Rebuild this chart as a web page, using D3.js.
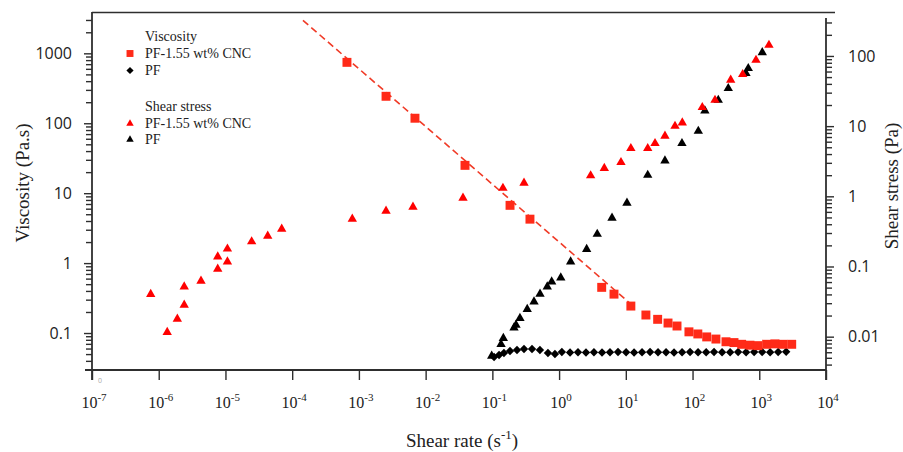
<!DOCTYPE html>
<html>
<head>
<meta charset="utf-8">
<script src="https://cdn.jsdelivr.net/npm/d3@7"></script>
<style>
  body { margin: 0; background: #fff; }
  svg { display: block; }
</style>
</head>
<body>
<div id="chart"></div>
<script>
// ---- data ----
// shear rate in 1/s, viscosity in Pa.s, shear stress in Pa
const xTickExps = [-7, -6, -5, -4, -3, -2, -1, 0, 1, 2, 3, 4];
const yLeftTicks = [0.1, 1, 10, 100, 1000];
const yLeftLabels = ["0.1", "1", "10", "100", "1000"];
const yRightTicks = [0.01, 0.1, 1, 10, 100];
const yRightLabels = ["0.01", "0.1", "1", "10", "100"];

const cncViscRate = [6.62e-4, 2.55e-3, 6.92e-3, 0.0389, 0.184, 0.366, 4.35, 6.65, 11.9, 20.0,
  30.0, 42.9, 58.5, 88.3, 120, 163, 224, 317, 418, 545, 726, 957, 1291, 1718, 2265, 3062];
const cncVisc = [743, 243, 118, 25, 6.7, 4.25, 0.45, 0.36, 0.243, 0.181,
  0.157, 0.139, 0.126, 0.104, 0.097, 0.088, 0.082, 0.075, 0.073, 0.069, 0.067, 0.066, 0.069, 0.070, 0.069, 0.069];

const pfViscRate = [0.106, 0.126, 0.149, 0.184, 0.234, 0.298, 0.393, 0.516, 0.681, 0.867,
  1.10, 1.46, 1.92, 2.53, 3.33, 4.40, 5.79, 7.64, 10.1, 13.3, 17.5, 23.1, 30.4, 40.1, 52.8,
  69.7, 91.8, 121, 160, 210, 277, 366, 482, 635, 838, 1104, 1455, 1919, 2529];
const pfVisc = [0.0454, 0.0485, 0.0518, 0.0553, 0.0572, 0.0591, 0.0591, 0.0572, 0.0518, 0.0501,
  0.0535, 0.0526, 0.0530, 0.0526, 0.0530, 0.0526, 0.0530, 0.0535, 0.0530, 0.0526, 0.0530, 0.0535,
  0.0530, 0.0530, 0.0526, 0.0530, 0.0535, 0.0530, 0.0530, 0.0535, 0.0530, 0.0530, 0.0535, 0.0530,
  0.0535, 0.0535, 0.0530, 0.0535, 0.0540];

const cncStressRate = [7.59e-7, 1.34e-6, 1.90e-6, 2.41e-6, 2.41e-6, 4.30e-6, 7.66e-6, 1.07e-5, 7.66e-6,
  1.07e-5, 2.47e-5, 4.30e-5, 6.97e-5, 7.96e-4, 2.55e-3, 6.46e-3, 0.0363, 0.144, 0.298, 2.97, 4.76,
  8.46, 11.9, 21.3, 27.4, 38.6, 54.6, 70.2, 140, 217, 373, 564, 893, 1397];
const cncStress = [0.0402, 0.01155, 0.01787, 0.0283, 0.0515, 0.0621, 0.0921, 0.117, 0.138,
  0.178, 0.226, 0.272, 0.342, 0.475, 0.618, 0.704, 0.946, 1.31, 1.55, 1.97, 2.51,
  3.05, 4.83, 4.83, 5.69, 7.23, 10.0, 11.2, 18.5, 23.5, 45.4, 54.7, 87.4, 143];

const pfStressRate = [0.0977, 0.135, 0.146, 0.211, 0.226, 0.259, 0.333, 0.421, 0.518, 0.665, 0.774,
  1.06, 1.49, 2.59, 3.73, 6.21, 10.4, 21.3, 38.6, 69.4, 122, 153, 243, 343, 632, 684, 1109];
const pfStress = [0.00531, 0.00779, 0.00949, 0.0134, 0.0147, 0.0183, 0.0246, 0.0315, 0.0406, 0.0515, 0.0607,
  0.0692, 0.117, 0.176, 0.290, 0.491, 0.803, 2.01, 3.21, 5.69, 8.51, 16.6, 23.5, 34.5, 56.5, 66.6, 112];

// dashed power-law fit for PF-1.55 wt% CNC viscosity
const fitRate = [1.45e-4, 12.4];
const fitVisc = [2960, 0.251];

// ---- chart ----
const W = 903, H = 452;
const plotLeft = 92, plotRight = 826, plotBottom = 370, plotTop = 12;
const axisColor = "#2e2e2e";
const serif = "'Liberation Serif', 'Times New Roman', serif";
const sans = "'Open Sans', 'Noto Sans', sans-serif";

const svg = d3.select("#chart").append("svg")
  .attr("width", W).attr("height", H);

const x = d3.scaleLog().domain([1e-7, 1e4]).range([plotLeft, plotRight]);
const yL = d3.scaleLog().domain([0.0296, 3900]).range([plotBottom, plotTop]);
const yR = d3.scaleLog().domain([0.00335, 347.5]).range([plotBottom, 18]);

function styleAxis(g) {
  g.select(".domain").remove();
  g.selectAll(".tick line").attr("stroke", axisColor).attr("stroke-width", 1.4);
}

// left axis: minor + major ticks
const leftMinor = yL.ticks().filter(v => yLeftTicks.indexOf(v) === -1);
svg.append("g").attr("transform", `translate(${plotLeft},0)`)
  .call(d3.axisLeft(yL).tickValues(leftMinor).tickSize(6).tickFormat(""))
  .call(styleAxis);
svg.append("g").attr("transform", `translate(${plotLeft},0)`)
  .call(d3.axisLeft(yL).tickValues(yLeftTicks).tickSize(8).tickFormat((d, i) => yLeftLabels[i]).tickPadding(12))
  .call(styleAxis)
  .call(g => g.selectAll("text").attr("font-family", sans).attr("font-size", 16).attr("fill", "#222"));

// right axis
const rightMinor = yR.ticks().filter(v => yRightTicks.indexOf(v) === -1);
svg.append("g").attr("transform", `translate(${plotRight},0)`)
  .call(d3.axisRight(yR).tickValues(rightMinor).tickSize(6).tickFormat(""))
  .call(styleAxis);
svg.append("g").attr("transform", `translate(${plotRight},0)`)
  .call(d3.axisRight(yR).tickValues(yRightTicks).tickSize(8).tickFormat((d, i) => yRightLabels[i]).tickPadding(14))
  .call(styleAxis)
  .call(g => g.selectAll("text").attr("font-family", sans).attr("font-size", 16).attr("fill", "#222"));

// bottom axis
svg.append("g").attr("transform", `translate(0,${plotBottom})`)
  .call(d3.axisBottom(x).tickValues(xTickExps.map(e => Math.pow(10, e))).tickSize(10).tickFormat(""))
  .call(styleAxis);

xTickExps.forEach(e => {
  const t = svg.append("text")
    .attr("x", x(Math.pow(10, e)) + 2).attr("y", 408)
    .attr("text-anchor", "middle")
    .attr("font-family", serif).attr("font-size", 16).attr("fill", "#222");
  t.append("tspan").text("10");
  t.append("tspan").attr("dy", -7).attr("font-size", 11).text(String(e));
});

// frame lines
svg.append("line").attr("x1", plotLeft).attr("x2", plotLeft).attr("y1", plotTop).attr("y2", plotBottom + 10)
  .attr("stroke", axisColor).attr("stroke-width", 1.8);
svg.append("line").attr("x1", plotRight).attr("x2", plotRight).attr("y1", 18).attr("y2", plotBottom + 10)
  .attr("stroke", axisColor).attr("stroke-width", 1.8);
svg.append("line").attr("x1", 85).attr("x2", plotRight).attr("y1", plotBottom).attr("y2", plotBottom)
  .attr("stroke", axisColor).attr("stroke-width", 1.8);
svg.append("line").attr("x1", plotLeft).attr("x2", 835).attr("y1", plotTop + 0.5).attr("y2", plotTop + 0.5)
  .attr("stroke", axisColor).attr("stroke-width", 1.5);

svg.append("text").attr("x", 98).attr("y", 383)
  .attr("font-family", sans).attr("font-size", 7).attr("fill", "#aaa").text("0");

// axis titles
svg.append("text")
  .attr("transform", "translate(29,183) rotate(-90)")
  .attr("text-anchor", "middle")
  .attr("font-family", serif).attr("font-size", 19).attr("fill", "#222")
  .text("Viscosity (Pa.s)");

svg.append("text")
  .attr("transform", "translate(898,186) rotate(-90)")
  .attr("text-anchor", "middle")
  .attr("font-family", serif).attr("font-size", 19).attr("fill", "#222")
  .text("Shear stress (Pa)");

const xt = svg.append("text")
  .attr("x", 462).attr("y", 447)
  .attr("text-anchor", "middle")
  .attr("font-family", serif).attr("font-size", 19).attr("fill", "#222");
xt.append("tspan").text("Shear rate (s");
xt.append("tspan").attr("dy", -8).attr("font-size", 13).text("-1");
xt.append("tspan").attr("dy", 8).text(")");

// ---- marks ----
const red = "#ff2a18";
const triRed = "#ff0000";
const diamond = r => `M0,${-r}L${r},0L0,${r}L${-r},0Z`;

const fitLine = d3.line().x(d => x(d[0])).y(d => yL(d[1]));
svg.append("path")
  .datum(d3.zip(fitRate, fitVisc))
  .attr("d", fitLine)
  .attr("fill", "none").attr("stroke", "#f03a26").attr("stroke-width", 1.6)
  .attr("stroke-dasharray", "7,4");

const sq = d3.symbol(d3.symbolSquare, 80);
const tri = d3.symbol(d3.symbolTriangle, 38);

svg.append("g").selectAll("path")
  .data(d3.zip(pfStressRate, pfStress))
  .join("path")
  .attr("transform", d => `translate(${x(d[0])},${yR(d[1])})`)
  .attr("d", tri).attr("fill", "#000");

svg.append("g").selectAll("path")
  .data(d3.zip(cncStressRate, cncStress))
  .join("path")
  .attr("transform", d => `translate(${x(d[0])},${yR(d[1])})`)
  .attr("d", tri).attr("fill", triRed);

svg.append("g").selectAll("path")
  .data(d3.zip(pfViscRate, pfVisc))
  .join("path")
  .attr("transform", d => `translate(${x(d[0])},${yL(d[1])})`)
  .attr("d", diamond(4.2)).attr("fill", "#000");

svg.append("g").selectAll("path")
  .data(d3.zip(cncViscRate, cncVisc))
  .join("path")
  .attr("transform", d => `translate(${x(d[0])},${yL(d[1])})`)
  .attr("d", sq).attr("fill", red);

// ---- legend ----
const legend = svg.append("g").attr("font-family", serif).attr("font-size", 14).attr("fill", "#222");
const legendRows = [
  { y: 41, text: "Viscosity" },
  { y: 58, text: "PF-1.55 wt% CNC", mark: d3.symbol(d3.symbolSquare, 48)(), color: red },
  { y: 75, text: "PF", mark: diamond(3.6), color: "#000" },
  { y: 111, text: "Shear stress" },
  { y: 128, text: "PF-1.55 wt% CNC", mark: d3.symbol(d3.symbolTriangle, 24)(), color: triRed },
  { y: 144, text: "PF", mark: d3.symbol(d3.symbolTriangle, 24)(), color: "#000" }
];
legendRows.forEach(r => {
  legend.append("text").attr("x", 145).attr("y", r.y).text(r.text);
  if (r.mark) {
    legend.append("path").attr("transform", `translate(130,${r.y - 4.5})`)
      .attr("d", r.mark).attr("fill", r.color);
  }
});
</script>
</body>
</html>
